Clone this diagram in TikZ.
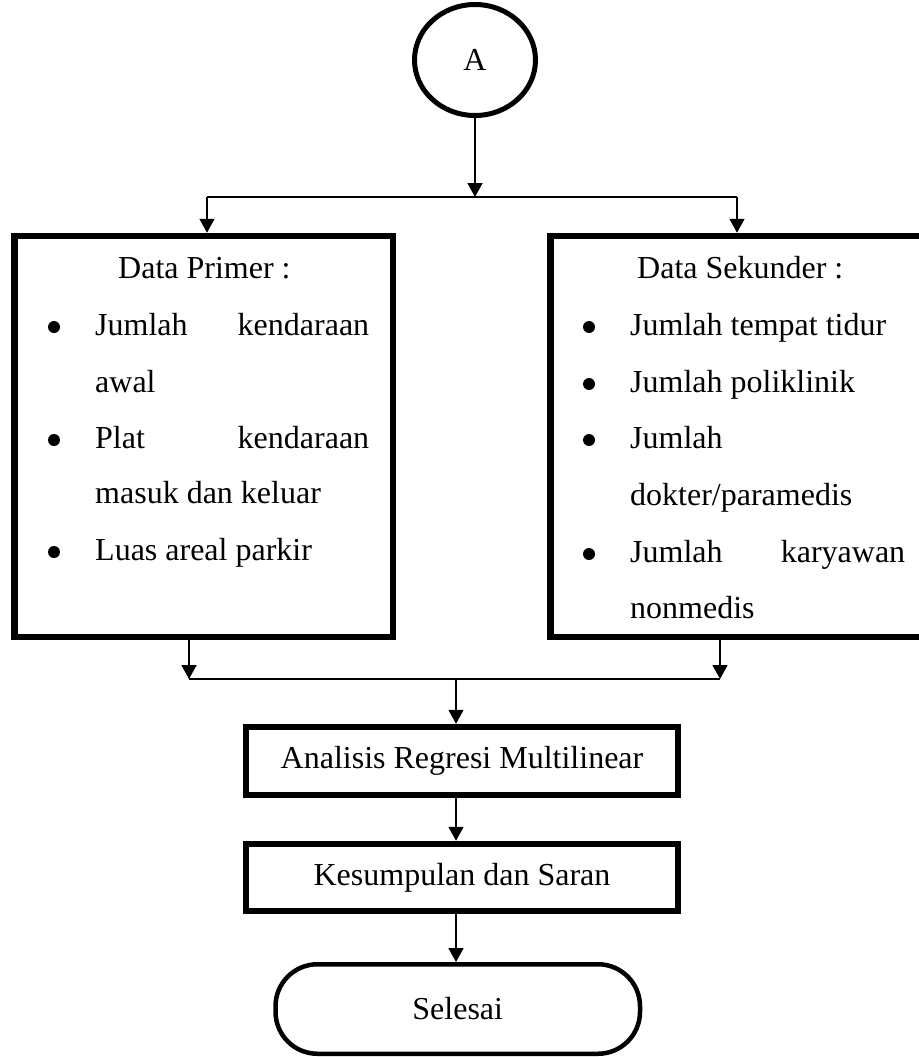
\documentclass[tikz,border=0pt]{standalone}
\usepackage{fontspec}
\setmainfont{Liberation Serif}
\usetikzlibrary{arrows.meta,shapes.geometric}
\begin{document}
\begin{tikzpicture}[x=1pt,y=-1pt,
  conn/.style={line width=1.8pt},
  arr/.style={conn,-{Triangle[length=14pt,width=15pt]}},
  thickbox/.style={draw,line width=6.5pt,inner sep=0pt},
  txt/.style={inner sep=0pt,anchor=base west,font=\fontsize{32}{38}\selectfont},
  bul/.style={circle,fill,inner sep=0pt,minimum size=12pt},
  boxtxt/.style={font=\fontsize{32}{38}\selectfont}
]
\useasboundingbox (0,0) rectangle (918,1057);

% start connector
\node[draw,ellipse,line width=5pt,minimum width=121pt,minimum height=111pt,inner sep=0pt,
      boxtxt] (A) at (475,60) {A};

% data boxes
\node[thickbox,minimum width=378.5pt,minimum height=401pt] (P) at (203.75,436.5) {};
\node[thickbox,minimum width=379.5pt,minimum height=401pt] (S) at (740.25,436.5) {};

% left box text
\node[txt] (p0) at (118,278) {Data Primer :};
\node[bul] (pb1) at (54,327) {};
\node[txt] (p1) at (95,335) {\makebox[274pt][s]{Jumlah kendaraan}};
\node[txt] (p2) at (95,392) {awal};
\node[bul] (pb2) at (54,440) {};
\node[txt] (p3) at (95,448) {\makebox[274pt][s]{Plat kendaraan}};
\node[txt] (p4) at (95,503) {masuk dan keluar};
\node[bul] (pb3) at (54,552) {};
\node[txt] (p5) at (95,560) {Luas areal parkir};

% right box text
\node[txt] (s0) at (637,278) {Data Sekunder :};
\node[bul] (sb1) at (589,327) {};
\node[txt] (s1) at (630,335) {Jumlah tempat tidur};
\node[bul] (sb2) at (589,384) {};
\node[txt] (s2) at (630,392) {Jumlah poliklinik};
\node[bul] (sb3) at (589,440) {};
\node[txt] (s3) at (630,448) {Jumlah};
\node[txt] (s4) at (630,505) {dokter/paramedis};
\node[bul] (sb4) at (589,554) {};
\node[txt] (s5) at (630,562) {\makebox[275pt][s]{Jumlah karyawan}};
\node[txt] (s6) at (630,618) {nonmedis};

% process boxes
\node[thickbox,minimum width=432pt,minimum height=68pt,boxtxt] (R1) at (462,761) {Analisis Regresi Multilinear};
\node[thickbox,minimum width=432pt,minimum height=67pt,boxtxt] (R2) at (462,877.5) {Kesumpulan dan Saran};
\node[draw,line width=4.5pt,rounded corners=42pt,minimum width=364.5pt,minimum height=89.5pt,
      inner sep=0pt,boxtxt] (E) at (457.75,1009) {Selesai};

% connectors
\coordinate (sM) at (475,197);
\coordinate (sL) at (207,197);
\coordinate (sR) at (737,197);
\draw[arr] (A.south) -- (sM);
\draw[conn] (sL) -- (sR);
\draw[arr] (sL) -- (sL |- P.north);
\draw[arr] (sR) -- (sR |- S.north);

\coordinate (mL) at (189,679);
\coordinate (mR) at (720,679);
\coordinate (mM) at (456,679);
\draw[arr] (mL |- P.south) -- (mL);
\draw[arr] (mR |- S.south) -- (mR);
\draw[conn] (mL) -- (mR);
\draw[arr] (mM) -- (mM |- R1.north);
\draw[arr] (mM |- R1.south) -- (mM |- R2.north);
\draw[arr] (mM |- R2.south) -- (mM |- E.north);
\end{tikzpicture}
\end{document}
